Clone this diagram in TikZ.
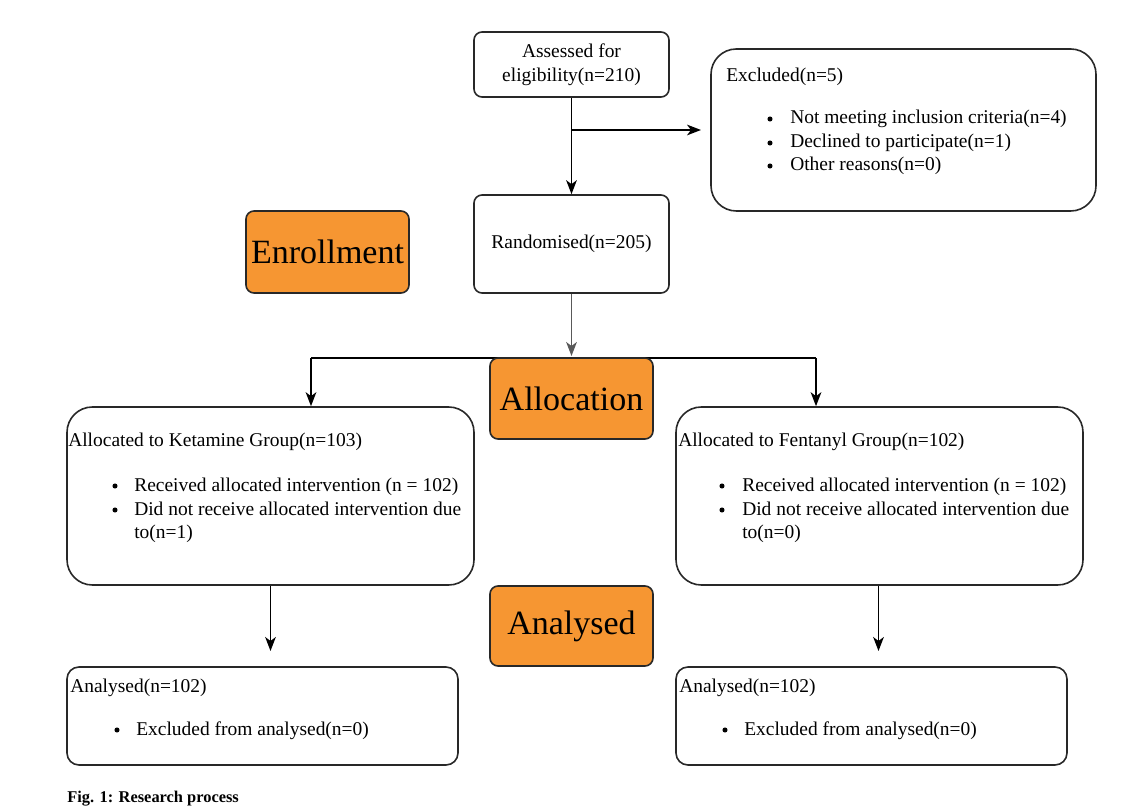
\documentclass[tikz,border=0pt]{standalone}
\usepackage{fontspec}
\setmainfont{Liberation Serif}
\usetikzlibrary{arrows.meta}
\definecolor{orangebox}{RGB}{246,150,50}
\definecolor{edge}{RGB}{40,40,40}
\begin{document}
\begin{tikzpicture}[x=0.75pt,y=-0.75pt,
  box/.style={draw=edge, line width=1.2pt, rounded corners=#1, inner sep=0pt},
  box/.default=6pt,
  stagebox/.style={box=6pt, fill=orangebox, font=\fontsize{25.5}{30}\selectfont},
  bodyfont/.style={font=\fontsize{14.6}{18}\selectfont},
  txt/.style={bodyfont, anchor=base west, inner sep=0pt},
  bul/.style={circle, fill=black, inner sep=0pt, minimum size=3.8pt},
  line/.style={line width=1.25pt, draw=black},
  arr/.style={line, -{Stealth[length=10.5pt,width=8pt,inset=3pt]}}]
\useasboundingbox (0,0) rectangle (1131,812);

% boxes
\node[box, bodyfont, align=center, minimum width=146.25pt, minimum height=48.75pt] (assess) at (571.5,64.5) {Assessed for\\eligibility(n=210)};
\node[box=19pt, minimum width=288.75pt, minimum height=121.5pt] (excl) at (903.5,130) {};
\node[box, bodyfont, minimum width=146.25pt, minimum height=73.5pt] (rand) at (571.5,244) {Randomised(n=205)};
\node[stagebox, minimum width=122.25pt, minimum height=61.5pt] (enroll) at (327.5,252) {Enrollment};
\node[box=19pt, minimum width=305.25pt, minimum height=133.5pt] (ket) at (270.5,496) {};
\node[box=19pt, minimum width=305.25pt, minimum height=133.5pt] (fen) at (879.5,496) {};
\node[stagebox, minimum width=122.25pt, minimum height=60pt] (anal) at (571.5,626) {Analysed};
\node[box=9pt, minimum width=293.25pt, minimum height=73.5pt] (anl) at (262.5,716) {};
\node[box=9pt, minimum width=293.25pt, minimum height=73.5pt] (anr) at (871.5,716) {};

% connectors
\coordinate (exclIn) at (701,130);
\draw[arr] (assess.south) -- (rand.north);
\draw[arr] (assess.south |- exclIn) -- (exclIn);
\coordinate (allocTip) at (571.5,356);
\draw[arr, draw=black!65] (rand.south) -- (allocTip);
\coordinate (lt) at (311,358);
\coordinate (rt) at (816,358);
\draw[line] (lt) -- (rt);
\draw[arr] (lt) -- (lt |- ket.north);
\draw[arr] (rt) -- (rt |- fen.north);
\coordinate (ketEnd) at (270.5,651);
\coordinate (fenEnd) at (878.5,651);
\draw[arr] (ket.south) -- (ketEnd);
\draw[arr] (fen.south -| fenEnd) -- (fenEnd);

\node[stagebox, minimum width=122.25pt, minimum height=60.75pt] (alloc) at (571.5,398.5) {Allocation};

% excluded text
\node[txt] (exT) at (726,82) {Excluded(n=5)};
\node[bul] (exB1) at (770,119) {};
\node[txt] (exL1) at (790,124) {Not meeting inclusion criteria(n=4)};
\node[bul] (exB2) at (770,143) {};
\node[txt] (exL2) at (790,148) {Declined to participate(n=1)};
\node[bul] (exB3) at (770,166) {};
\node[txt] (exL3) at (790,171) {Other reasons(n=0)};

% ketamine text
\node[txt] (kT) at (68,447) {Allocated to Ketamine Group(n=103)};
\node[bul] (kB1) at (115,486) {};
\node[txt] (kL1) at (134,491) {Received allocated intervention (n = 102)};
\node[bul] (kB2) at (115,510) {};
\node[txt] (kL2) at (134,515) {Did not receive allocated intervention due};
\node[txt] (kL3) at (134,538) {to(n=1)};

% fentanyl text
\node[txt] (fT) at (678,447) {Allocated to Fentanyl Group(n=102)};
\node[bul] (fB1) at (722,486) {};
\node[txt] (fL1) at (742,491) {Received allocated intervention (n = 102)};
\node[bul] (fB2) at (722,510) {};
\node[txt] (fL2) at (742,515) {Did not receive allocated intervention due};
\node[txt] (fL3) at (742,538) {to(n=0)};

% analysed text
\node[txt] (aT) at (70,692) {Analysed(n=102)};
\node[bul] (aB) at (117,730) {};
\node[txt] (aL) at (136,735) {Excluded from analysed(n=0)};
\node[txt] (bT) at (679,692) {Analysed(n=102)};
\node[bul] (bB) at (725,730) {};
\node[txt] (bL) at (744,735) {Excluded from analysed(n=0)};

% caption
\node[anchor=base west, inner sep=0pt, font=\fontsize{12.3}{14}\selectfont\bfseries] (cap) at (67,802) {Fig. 1: Research process};
\end{tikzpicture}
\end{document}
